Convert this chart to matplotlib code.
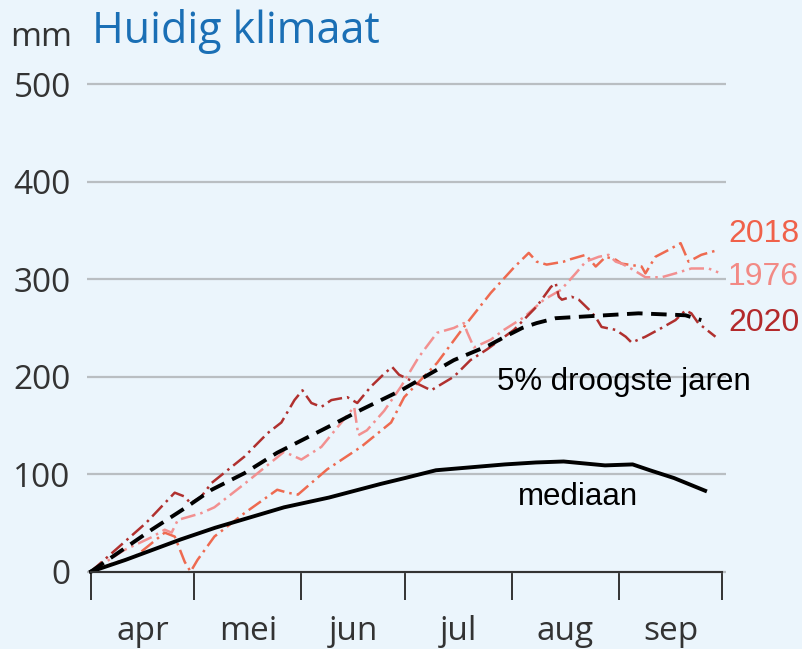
import matplotlib.pyplot as plt

# dagen vanaf 1 april
maand_grenzen = [0, 30, 61, 91, 122, 153, 183]
maand_midden = [15, 45.5, 76, 106.5, 137.5, 168]
maanden = ['apr', 'mei', 'jun', 'jul', 'aug', 'sep']
y_ticks = [0, 100, 200, 300, 400, 500]

# mediaan
med_d = [0, 10, 26, 36, 56, 69, 84, 91, 100, 110, 120, 129, 137, 149, 157, 162, 169, 178]
med_v = [0, 12, 33, 45, 66, 76, 90, 96, 104, 107, 110, 112, 113, 109, 110, 104, 96, 83]

# 5% droogste jaren
p5_d = [0, 17.6, 27.2, 35, 44.5, 54, 68.5, 78.3, 89.9, 105.2, 115.3, 120, 125, 129.2, 134.7, 144.3, 158.7, 172.3, 176.9]
p5_v = [0, 43, 65, 84, 101, 122, 148, 166, 186, 217, 232, 241, 250, 255, 260, 262, 265, 263, 258]

# 2020
d2020 = [0, 8, 16, 24.3, 27.2, 28.9, 32, 35, 44.5, 51.2, 55.2, 59, 61.3, 63.9, 66.8, 69.7, 74.3, 77.2,
         81.2, 85, 87.3, 89.3, 98.6, 105.2, 110, 114.8, 122.6, 129.2, 133.3, 134.7, 135.6, 136.5, 139.3,
         141.4, 144.3, 146.3, 148, 152.1, 155, 156.7, 160.7, 165.4, 169.4, 172.3, 174, 176, 181]
v2020 = [0, 25, 50, 81, 77, 70, 77, 91, 118, 142, 153, 176, 186, 173, 169, 176, 179, 173,
         190, 203, 210, 202, 186, 200, 217, 228, 248, 272, 292, 296, 282, 279, 282,
         279, 269, 261, 251, 248, 241, 235, 241, 250, 258, 268, 265, 255, 241]

# 2018
d2018 = [0, 6, 12.7, 21.4, 24.3, 27.2, 28.9, 30.9, 35.8, 44.5, 54, 57, 60, 68.5, 78.3, 87, 90.8,
         100.3, 108.1, 115.9, 122.6, 126.9, 129.2, 132.1, 137, 138.5, 143.4, 146.3, 149.2, 152.1,
         153.8, 159.6, 160.7, 163.6, 167.4, 170.9, 173.2, 176.9, 181.8]
v2018 = [0, 8, 15, 40, 36, 10, 0, 12, 36, 60, 84, 81, 79, 105, 128, 153, 179,
         214, 251, 286, 312, 327, 318, 315, 318, 320, 325, 313, 323, 320,
         316, 313, 306, 323, 330, 337, 318, 325, 330]

# 1976
d1976 = [0, 9.6, 17.4, 21.4, 23.4, 25.2, 32, 35.8, 44.5, 56, 61, 66.8, 72.6, 76.3, 77.5, 80, 85,
         89.9, 95, 100.3, 105.2, 108.1, 109, 111, 115.9, 119.7, 125.5, 131.3, 136.2, 140.5, 143.4,
         147.2, 150, 152.1, 153.8, 157, 160.7, 165.4, 169.4, 174, 179, 181.8]
v1976 = [0, 22, 35, 43, 40, 53, 60, 66, 90, 123, 115, 128, 153, 169, 140, 145, 165,
         190, 220, 245, 250, 255, 246, 230, 238, 248, 261, 279, 289, 306, 318,
         323, 325, 318, 316, 310, 302, 302, 306, 311, 311, 307]

bg = '#ebf5fc'
fig = plt.figure(figsize=(8.02, 6.49), dpi=100, facecolor=bg)
ax = fig.add_axes([0.109, 0.1162, 0.796, 0.769], facecolor=bg)

ax.plot(d2018, v2018, color='#ee6a50', lw=1.8, ls=(0, (6, 2, 1, 2)))
ax.plot(d1976, v1976, color='#f29090', lw=1.8, ls=(0, (6, 2, 1, 2)))
ax.plot(d2020, v2020, color='#b0302e', lw=1.8, ls=(0, (6, 2, 1, 2)))
ax.plot(p5_d, p5_v, color='black', lw=2.8, ls=(0, (4, 2.2)))
ax.plot(med_d, med_v, color='black', lw=2.8)

ax.set_xlim(-1, 184)
ax.set_ylim(-2, 510)

# assen
for s in ['left', 'right', 'top']:
    ax.spines[s].set_visible(False)
ax.spines['bottom'].set_position(('data', 0))
ax.spines['bottom'].set_bounds(0, 183)
ax.spines['bottom'].set_color('#333333')
ax.spines['bottom'].set_linewidth(1.5)

ax.set_xticks(maand_grenzen)
ax.set_xticklabels([])
ax.set_xticks(maand_midden, minor=True)
ax.set_xticklabels(maanden, minor=True)
ax.tick_params(axis='x', which='major', direction='out', length=20, width=1.4, color='#333333')
ax.tick_params(axis='x', which='minor', length=0, pad=31, labelsize=24, labelcolor='#333333')
for lab in ax.get_xticklabels(minor=True):
    lab.set_family('Open Sans')

ax.set_yticks(y_ticks)
ax.tick_params(axis='y', length=0, pad=12, labelsize=24, labelcolor='#333333')
for lab in ax.get_yticklabels():
    lab.set_family('Open Sans')
ax.yaxis.grid(True, color='#b9bec2', lw=1.6)
ax.set_axisbelow(True)

# titel
fig.text(10 / 802, 1 - 37 / 649, 'mm', fontsize=24, color='#333333', family='Open Sans', va='center')
fig.text(92 / 802, 1 - 32 / 649, 'Huidig klimaat', fontsize=31, color='#1a6fb5', family='Open Sans', va='center')

# labels bij de lijnen
ax.text(184.6, 346, '2018', color='#f0614a', fontsize=23, family='Liberation Sans', va='center', clip_on=False)
ax.text(184.6, 302, '1976', color='#f28a85', fontsize=23, family='Liberation Sans', va='center', clip_on=False)
ax.text(184.6, 255, '2020', color='#b3292b', fontsize=23, family='Liberation Sans', va='center', clip_on=False)
ax.text(117.7, 194.6, '5% droogste jaren', color='black', fontsize=22.5, family='Liberation Sans', va='center')
ax.text(123.8, 77, 'mediaan', color='black', fontsize=22.5, family='Liberation Sans', va='center')

plt.savefig('out.png', dpi=100, facecolor=bg)
